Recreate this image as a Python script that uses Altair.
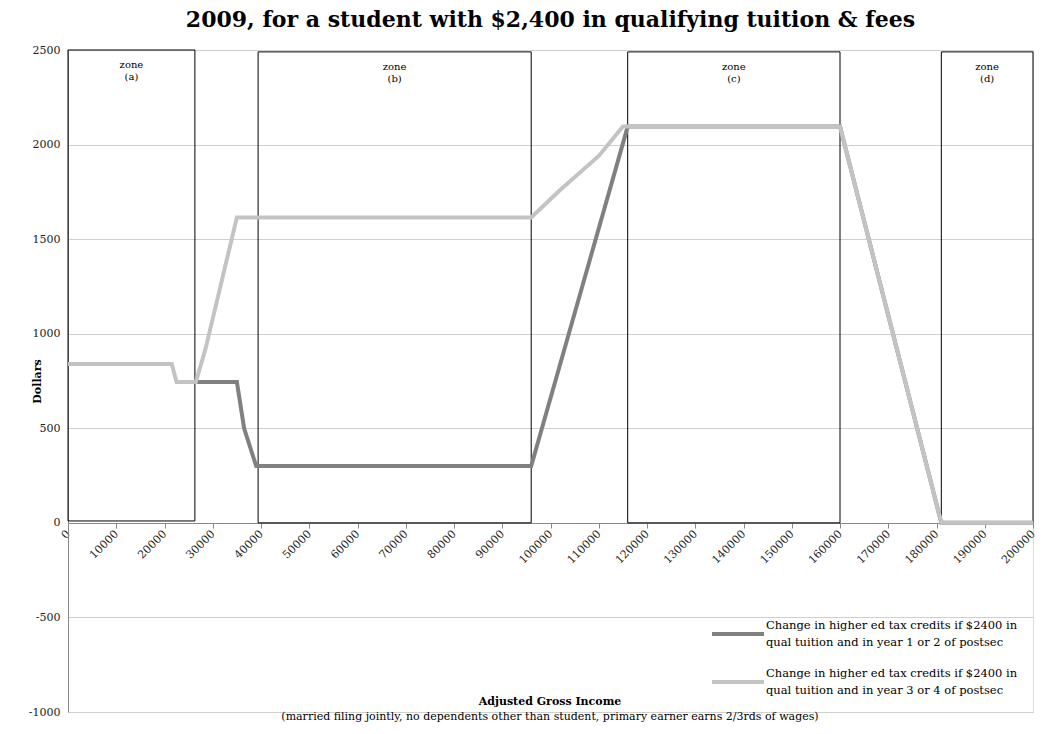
import altair as alt
import pandas as pd

dark_x = [26300, 35000, 36500, 39000, 96000, 116000, 160000, 181000, 200000]
dark_y = [745, 745, 500, 300, 300, 2095, 2095, 0, 0]
light_x = [0, 21500, 22500, 26500, 28500, 35000, 96000, 102000, 110000, 115000, 160000, 181000, 200000]
light_y = [840, 840, 745, 745, 920, 1615, 1615, 1760, 1940, 2095, 2095, 0, 0]

zone_names = ["zone\n(a)", "zone\n(b)", "zone\n(c)", "zone\n(d)"]
zone_x1 = [0, 39400, 116000, 181000]
zone_x2 = [26300, 96000, 160000, 200000]
zone_y1 = [10, 0, 0, 0]
zone_y2 = [2500, 2490, 2490, 2490]

legend_labels = [
    "Change in higher ed tax credits if $2400 in\nqual tuition and in year 1 or 2 of postsec",
    "Change in higher ed tax credits if $2400 in\nqual tuition and in year 3 or 4 of postsec",
]
colors = ["#808080", "#c3c3c3"]
FONT = "DejaVu Serif"

lines = pd.concat([
    pd.DataFrame({"x": dark_x, "y": dark_y, "s": "dark"}),
    pd.DataFrame({"x": light_x, "y": light_y, "s": "light"}),
])
zones = pd.DataFrame({"name": zone_names, "x1": zone_x1, "x2": zone_x2, "y1": zone_y1, "y2": zone_y2})
zones["xm"] = (zones.x1 + zones.x2) / 2

xs = alt.Scale(domain=[0, 200000], nice=False)
ys = alt.Scale(domain=[-1000, 2500], nice=False)

xaxis = alt.Axis(values=list(range(0, 200001, 10000)), format="d", labelAngle=-45, labelAlign="right",
                 labelBaseline="middle", offset=-189, grid=False, title=None, domainColor="#888",
                 tickColor="#888", labelFont=FONT, labelFontSize=11, labelColor="#222", labelPadding=4)
yaxis = alt.Axis(values=list(range(-1000, 2501, 500)), labelExpr="replace(datum.label, '−', '-')",
                 format="d", title="Dollars", titleFont=FONT,
                 titleFontSize=11, titleFontWeight="bold", titlePadding=-14, gridColor="#cfcfcf",
                 domainColor="#888", tickSize=0, labelFont=FONT, labelFontSize=11, labelColor="#222",
                 labelPadding=8)

boxes = alt.Chart(zones).mark_rect(fill=None, stroke="black", strokeWidth=1).encode(
    x=alt.X("x1:Q", scale=xs, axis=xaxis), x2="x2", y=alt.Y("y1:Q", scale=ys, axis=yaxis), y2="y2")
ztext = alt.Chart(zones).mark_text(font=FONT, fontSize=10, lineBreak="\n", baseline="top", dy=10).encode(
    x=alt.X("xm:Q", scale=xs), y=alt.Y("y2:Q", scale=ys), text="name:N")

line_chart = alt.Chart(lines).mark_line(strokeWidth=4).encode(
    x=alt.X("x:Q", scale=xs), y=alt.Y("y:Q", scale=ys), detail="s:N",
    color=alt.Color("s:N", scale=alt.Scale(domain=["dark", "light"], range=colors), legend=None))


def legend_item(i, py):
    d = pd.DataFrame({"label": [legend_labels[i]]})
    r = alt.Chart(d).mark_rule(strokeWidth=4, color=colors[i]).encode(
        x=alt.value(644), x2=alt.value(696), y=alt.value(py))
    t = alt.Chart(d).mark_text(font=FONT, fontSize=11.5, align="left", baseline="middle", lineBreak="\n",
                               lineHeight=17, dy=-8).encode(x=alt.value(698), y=alt.value(py), text="label:N")
    return r + t


xtitle = alt.Chart(pd.DataFrame({"t": ["Adjusted Gross Income"]})).mark_text(
    font=FONT, fontSize=11, fontWeight="bold").encode(x=alt.value(482), y=alt.value(652), text="t:N")
xsub = alt.Chart(pd.DataFrame({"t": ["(married filing jointly, no dependents  other than student, primary earner earns 2/3rds of wages)"]})).mark_text(
    font=FONT, fontSize=11).encode(x=alt.value(482), y=alt.value(667), text="t:N")

chart = alt.layer(boxes, line_chart, ztext, legend_item(0, 584), legend_item(1, 632), xtitle, xsub).properties(
    width=965, height=662,
    title=alt.Title("2009, for a student with $2,400 in qualifying tuition & fees", font=FONT,
                    fontSize=22, fontWeight="bold", anchor="middle", offset=12),
    autosize=alt.AutoSizeParams(type="none"),
    padding={"left": 60, "top": 42, "right": 20, "bottom": 10},
).configure_view(stroke=None).configure(background="white")

chart.save("out.html", embed_options={"renderer": "svg", "actions": False})
